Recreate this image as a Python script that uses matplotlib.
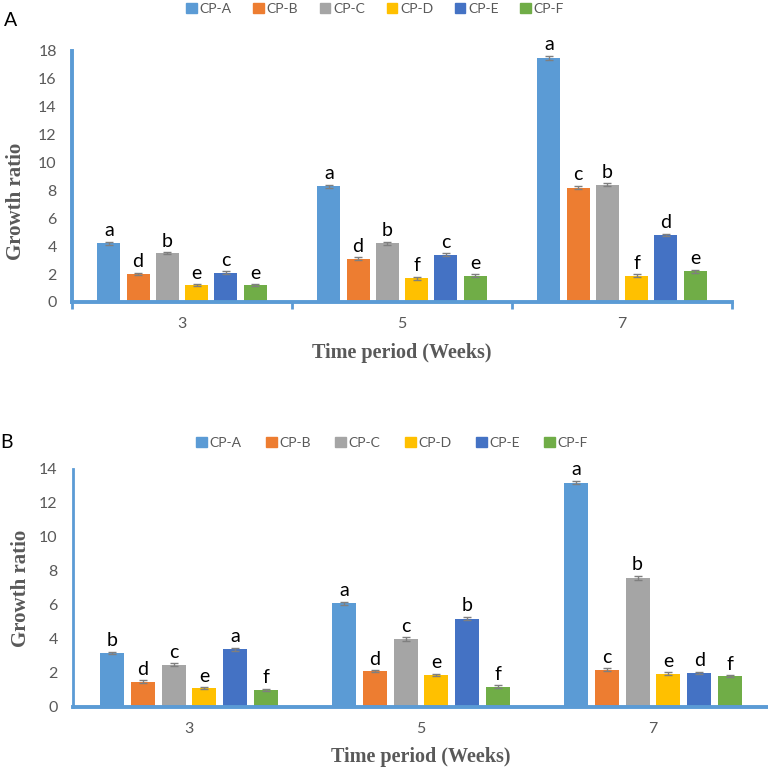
import numpy as np
import matplotlib.pyplot as plt
from matplotlib.patches import Patch

# dados
weeks = ["3", "5", "7"]
series = ["CP-A", "CP-B", "CP-C", "CP-D", "CP-E", "CP-F"]
colors = ["#5B9BD5", "#ED7D31", "#A5A5A5", "#FFC000", "#4472C4", "#70AD47"]

# painel A
a_vals = [
    [4.2, 8.3, 17.5],   # CP-A
    [2.0, 3.1, 8.2],    # CP-B
    [3.5, 4.2, 8.4],    # CP-C
    [1.2, 1.7, 1.9],    # CP-D
    [2.1, 3.4, 4.8],    # CP-E
    [1.2, 1.9, 2.2],    # CP-F
]
a_err = [
    [0.1, 0.12, 0.15],
    [0.08, 0.1, 0.12],
    [0.08, 0.1, 0.1],
    [0.06, 0.1, 0.1],
    [0.1, 0.08, 0.08],
    [0.06, 0.1, 0.1],
]
a_letters = [
    ["a", "a", "a"],
    ["d", "d", "c"],
    ["b", "b", "b"],
    ["e", "f", "f"],
    ["c", "c", "d"],
    ["e", "e", "e"],
]

# painel B
b_vals = [
    [3.2, 6.1, 13.2],
    [1.5, 2.1, 2.2],
    [2.5, 4.0, 7.6],
    [1.1, 1.9, 1.95],
    [3.4, 5.2, 2.0],
    [1.0, 1.2, 1.8],
]
b_err = [
    [0.06, 0.08, 0.1],
    [0.06, 0.06, 0.08],
    [0.08, 0.1, 0.12],
    [0.06, 0.06, 0.08],
    [0.08, 0.1, 0.06],
    [0.08, 0.08, 0.06],
]
b_letters = [
    ["b", "a", "a"],
    ["d", "d", "c"],
    ["c", "c", "b"],
    ["e", "e", "e"],
    ["a", "b", "d"],
    ["f", "f", "f"],
]

W, H = 768, 771
fig = plt.figure(figsize=(W / 100, H / 100), dpi=100)

GRAY = "#595959"
BLUE = "#5B9BD5"
step = 0.133
bw = 0.104


def px_axes(left, right, y0, ytop):
    return [left / W, 1 - y0 / H, (right - left) / W, (y0 - ytop) / H]


def draw_panel(ax, vals, errs, letters, ymax, left_lw, show_minor, ylab_x, ylab_y, xlab_y):
    x = np.arange(len(weeks))
    for i, name in enumerate(series):
        pos = x + (i - 2.5) * step
        ax.bar(pos, vals[i], bw, color=colors[i], label=name, zorder=2,
               yerr=errs[i], ecolor="#7F7F7F", capsize=3,
               error_kw=dict(elinewidth=1, capthick=1))
        for j in range(len(weeks)):
            ax.annotate(letters[i][j], (pos[j], vals[i][j] + errs[i][j]),
                        xytext=(0, 4), textcoords="offset points",
                        ha="center", va="baseline", fontsize=14,
                        family="Lato", color="black")
    ax.set_xlim(-0.5, 2.5)
    ax.set_ylim(0, ymax)
    ax.set_yticks(np.arange(0, ymax + 1, 2))
    ax.set_xticks(x)
    ax.set_xticklabels(weeks)
    for sp in ["top", "right"]:
        ax.spines[sp].set_visible(False)
    ax.spines["left"].set_color(BLUE)
    ax.spines["left"].set_linewidth(left_lw)
    ax.spines["bottom"].set_color(BLUE)
    ax.spines["bottom"].set_linewidth(2.8)
    ax.tick_params(axis="y", length=0, pad=11, labelsize=11.5, labelcolor=GRAY)
    ax.tick_params(axis="x", which="major", length=0, pad=11, labelsize=11.5, labelcolor=GRAY)
    for t in ax.get_xticklabels() + ax.get_yticklabels():
        t.set_family("Lato")
    if show_minor:
        ax.set_xticks([-0.5, 0.5, 1.5, 2.5], minor=True)
        ax.tick_params(axis="x", which="minor", length=5, width=2, color=BLUE, direction="out")
    ax.set_ylabel("Growth ratio", family="Liberation Serif", fontweight="bold",
                  fontsize=15, color=GRAY)
    ax.yaxis.set_label_coords(ylab_x, ylab_y)
    ax.set_xlabel("Time period (Weeks)", family="Liberation Serif", fontweight="bold",
                  fontsize=14.5, color=GRAY)
    ax.xaxis.set_label_coords(0.5, xlab_y)


axA = fig.add_axes(px_axes(72, 732, 302, 51))
draw_panel(axA, a_vals, a_err, a_letters, 18, 2.8, True, -0.07, 0.40, -0.165)

axB = fig.add_axes(px_axes(73, 769, 707, 469))
draw_panel(axB, b_vals, b_err, b_letters, 14, 2.0, False, -0.06, 0.5, -0.17)

handles = [Patch(color=c) for c in colors]
fig.legend(handles, series, loc="center", bbox_to_anchor=(375 / W, 1 - 9 / H), ncol=6,
           frameon=False, handlelength=0.77, handleheight=0.77,
           handletextpad=0.2, columnspacing=1.55, labelcolor=GRAY,
           prop={"family": "Lato", "size": 10})
fig.legend(handles, series, loc="center", bbox_to_anchor=(392 / W, 1 - 443 / H), ncol=6,
           frameon=False, handlelength=0.77, handleheight=0.77,
           handletextpad=0.2, columnspacing=1.75, labelcolor=GRAY,
           prop={"family": "Lato", "size": 10})

fig.text(11 / W, 1 - 20 / H, "A", fontsize=14, family="Lato", ha="center", va="center")
fig.text(7 / W, 1 - 443 / H, "B", fontsize=14, family="Lato", ha="center", va="center")

plt.savefig("out.png", dpi=100)
